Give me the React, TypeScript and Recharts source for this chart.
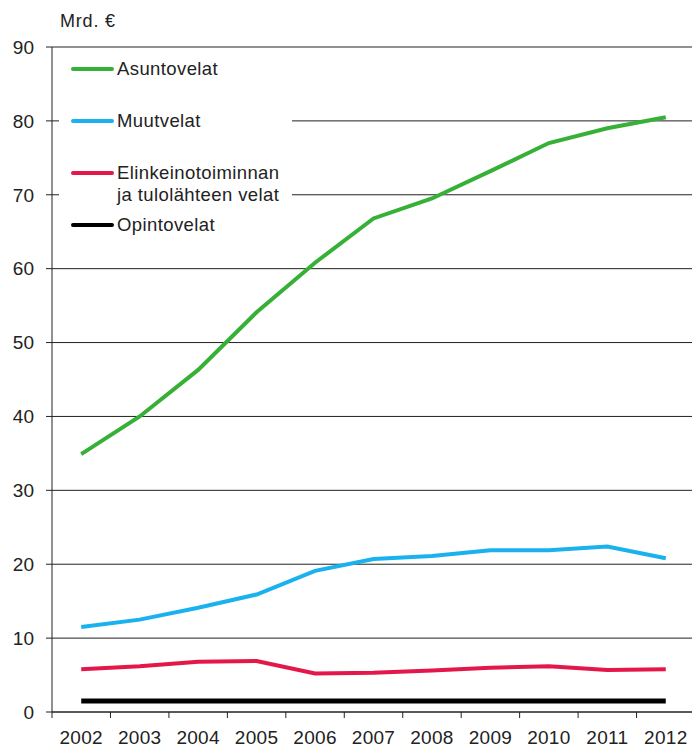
import React from 'react';
import { LineChart, Line, XAxis, YAxis, CartesianGrid, Legend } from 'recharts';

const years = ['2002', '2003', '2004', '2005', '2006', '2007', '2008', '2009', '2010', '2011', '2012'];
const asuntovelat = [34.9, 40.0, 46.3, 54.1, 60.8, 66.8, 69.5, 73.2, 77.0, 79.0, 80.5];
const muutvelat = [11.5, 12.5, 14.1, 15.9, 19.1, 20.7, 21.1, 21.9, 21.9, 22.4, 20.8];
const elinkeino = [5.8, 6.2, 6.8, 6.9, 5.2, 5.3, 5.6, 6.0, 6.2, 5.7, 5.8];
const opinto = [1.5, 1.5, 1.5, 1.5, 1.5, 1.5, 1.5, 1.5, 1.5, 1.5, 1.5];
const yTicks = [0, 10, 20, 30, 40, 50, 60, 70, 80, 90];

const seriesInfo = [
  { key: 'asunto', name: 'Asuntovelat', color: '#36b036', lines: ['Asuntovelat'] },
  { key: 'muut', name: 'Muutvelat', color: '#1ab2ee', lines: ['Muutvelat'] },
  { key: 'elinkeino', name: 'Elinkeinotoiminnan ja tulolähteen velat', color: '#e4174b', lines: ['Elinkeinotoiminnan', 'ja tulolähteen velat'] },
  { key: 'opinto', name: 'Opintovelat', color: '#000000', lines: ['Opintovelat'] },
];

const data = years.map((y, i) => ({
  year: y,
  asunto: asuntovelat[i],
  muut: muutvelat[i],
  elinkeino: elinkeino[i],
  opinto: opinto[i],
}));

const CHART_W = 695;
const CHART_H = 747;
const Y_AXIS_W = 52;
const PLOT_W = CHART_W - Y_AXIS_W;
const HALF = PLOT_W / years.length / 2;
const FONT = '"Liberation Sans", Arial, sans-serif';

const XTick = (props: any) => {
  const { x, y, payload, index } = props;
  return (
    <g>
      <line x1={x - HALF} x2={x - HALF} y1={y} y2={y + 6} stroke="#222" strokeWidth={1} />
      {index === years.length - 1 && (
        <line x1={x + HALF} x2={x + HALF} y1={y} y2={y + 6} stroke="#222" strokeWidth={1} />
      )}
      <text x={x} y={y + 32} textAnchor="middle" fill="#222" fontSize={19} fontFamily={FONT} letterSpacing={0.3}>
        {payload.value}
      </text>
    </g>
  );
};

const legendTopRows = [69, 121, 173, 225];

const renderLegend = () => (
  <div style={{ position: 'relative', width: 233, height: 188, background: '#fff', fontFamily: FONT }}>
    {seriesInfo.map((s, i) => (
      <div key={s.key}>
        <div
          style={{
            position: 'absolute',
            left: 12,
            top: legendTopRows[i] - 52 - 2,
            width: 43,
            height: 4,
            background: s.color,
            borderRadius: 2,
          }}
        />
        {s.lines.map((t, j) => (
          <div
            key={j}
            style={{
              position: 'absolute',
              left: 58,
              top: legendTopRows[i] - 52 - 11 + j * 22,
              fontSize: 18.5,
              lineHeight: '22px',
              color: '#222',
              whiteSpace: 'nowrap',
              letterSpacing: 0.4,
            }}
          >
            {t}
          </div>
        ))}
      </div>
    ))}
  </div>
);

export default function App() {
  return (
    <div style={{ position: 'absolute', left: 0, top: 0, width: 692, height: 747, overflow: 'hidden', background: '#fff' }}>
      <div
        style={{
          position: 'absolute',
          left: 60,
          top: 11,
          fontFamily: FONT,
          fontSize: 18,
          color: '#222',
          letterSpacing: 0.8,
          zIndex: 2,
        }}
      >
        Mrd. €
      </div>
      <LineChart width={CHART_W} height={CHART_H} data={data} margin={{ top: 47, right: 0, bottom: 0, left: 0 }}>
        <CartesianGrid vertical={false} stroke="#222" strokeWidth={1} />
        <XAxis
          dataKey="year"
          interval={0}
          height={35}
          padding={{ left: HALF, right: HALF }}
          tickLine={false}
          tickSize={0}
          tickMargin={0}
          axisLine={{ stroke: '#222' }}
          tick={<XTick />}
        />
        <YAxis
          width={Y_AXIS_W}
          domain={[0, 90]}
          ticks={yTicks}
          interval={0}
          tickSize={6}
          tickMargin={12}
          axisLine={{ stroke: '#222' }}
          tickLine={{ stroke: '#222' }}
          tick={{ fill: '#222', fontSize: 19, fontFamily: FONT }}
        />
        <Legend
          layout="horizontal"
          verticalAlign="middle"
          align="center"
          content={renderLegend}
          wrapperStyle={{ position: 'absolute', left: 59, top: 52, width: 233, height: 188 }}
        />
        {seriesInfo.map((s) => (
          <Line
            key={s.key}
            type="linear"
            dataKey={s.key}
            name={s.name}
            stroke={s.color}
            strokeWidth={s.key === 'opinto' ? 5 : 4}
            dot={false}
            activeDot={false}
            isAnimationActive={false}
          />
        ))}
      </LineChart>
    </div>
  );
}
